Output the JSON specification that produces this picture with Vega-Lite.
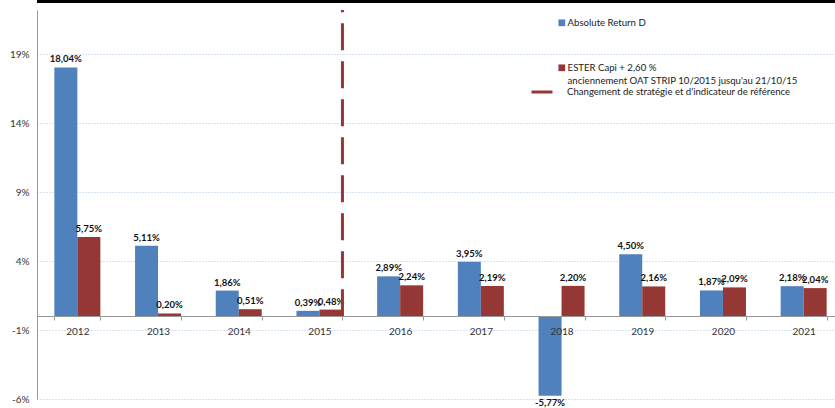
{
  "$schema": "https://vega.github.io/schema/vega-lite/v6.json",
  "width": 798,
  "height": 389,
  "autosize": {"type": "none"},
  "padding": {"left": 37, "top": 10, "right": 0, "bottom": 9},
  "background": "white",
  "config": {
    "view": {"stroke": null},
    "font": "Lato",
    "axis": {"labelFont": "Lato", "labelFontSize": 10, "labelColor": "#333333"},
    "legend": {"labelFont": "Lato", "labelFontSize": 9.6, "labelColor": "#1a1a1a", "padding": 0, "labelLimit": 400},
    "style": {"guide-label": {"lineHeight": 13}}
  },
  "data": {
    "values": [
      {"year": "2012", "series": "Absolute Return D", "value": 18.04, "label": "18,04%"},
      {"year": "2012", "series": "ESTER Capi + 2,60 %", "value": 5.75, "label": "5,75%"},
      {"year": "2013", "series": "Absolute Return D", "value": 5.11, "label": "5,11%"},
      {"year": "2013", "series": "ESTER Capi + 2,60 %", "value": 0.20, "label": "0,20%"},
      {"year": "2014", "series": "Absolute Return D", "value": 1.86, "label": "1,86%"},
      {"year": "2014", "series": "ESTER Capi + 2,60 %", "value": 0.51, "label": "0,51%"},
      {"year": "2015", "series": "Absolute Return D", "value": 0.39, "label": "0,39%"},
      {"year": "2015", "series": "ESTER Capi + 2,60 %", "value": 0.48, "label": "0,48%"},
      {"year": "2016", "series": "Absolute Return D", "value": 2.89, "label": "2,89%"},
      {"year": "2016", "series": "ESTER Capi + 2,60 %", "value": 2.24, "label": "2,24%"},
      {"year": "2017", "series": "Absolute Return D", "value": 3.95, "label": "3,95%"},
      {"year": "2017", "series": "ESTER Capi + 2,60 %", "value": 2.19, "label": "2,19%"},
      {"year": "2018", "series": "Absolute Return D", "value": -5.77, "label": "-5,77%"},
      {"year": "2018", "series": "ESTER Capi + 2,60 %", "value": 2.20, "label": "2,20%"},
      {"year": "2019", "series": "Absolute Return D", "value": 4.50, "label": "4,50%"},
      {"year": "2019", "series": "ESTER Capi + 2,60 %", "value": 2.16, "label": "2,16%"},
      {"year": "2020", "series": "Absolute Return D", "value": 1.87, "label": "1,87%"},
      {"year": "2020", "series": "ESTER Capi + 2,60 %", "value": 2.09, "label": "2,09%"},
      {"year": "2021", "series": "Absolute Return D", "value": 2.18, "label": "2,18%"},
      {"year": "2021", "series": "ESTER Capi + 2,60 %", "value": 2.04, "label": "2,04%"}
    ]
  },
  "layer": [
    {
      "mark": {"type": "bar"},
      "encoding": {
        "x": {
          "field": "year", "type": "nominal",
          "scale": {"range": [0, 807], "paddingInner": 0.43, "paddingOuter": 0.215},
          "axis": {
            "title": null, "labelAngle": 0, "offset": -83, "domainColor": "#999999",
            "tickColor": "#999999", "tickBand": "extent", "tickSize": 4, "labelPadding": 6, "zindex": 1
          }
        },
        "xOffset": {"field": "series", "type": "nominal", "scale": {"paddingInner": 0, "domain": ["Absolute Return D", "ESTER Capi + 2,60 %"]}},
        "y": {
          "field": "value", "type": "quantitative",
          "scale": {"domain": [-6, 22.2], "nice": false, "zero": false},
          "axis": {
            "title": null, "values": [-6, -1, 4, 9, 14, 19],
            "labelExpr": "datum.value + '%'",
            "grid": true, "gridColor": "#aac4e6", "gridDash": [1, 2], "gridWidth": 1,
            "domainColor": "#999999", "ticks": false, "labelPadding": 8
          }
        },
        "color": {
          "field": "series", "type": "nominal",
          "scale": {"domain": ["Absolute Return D", "ESTER Capi + 2,60 %"], "range": ["#4f81bd", "#953735"]},
          "legend": {
            "title": null, "orient": "none", "legendX": 520, "legendY": 8,
            "symbolType": "square", "symbolSize": 45, "symbolStrokeWidth": 0,
            "labelOffset": 1, "rowPadding": 34, "labelBaseline": "middle",
            "labelExpr": "datum.label == 'ESTER Capi + 2,60 %' ? ['ESTER Capi + 2,60 %', \"anciennement OAT STRIP 10/2015 jusqu'au 21/10/15\"] : datum.label"
          }
        }
      }
    },
    {
      "transform": [{"filter": "datum.value >= 0"}],
      "mark": {"type": "text", "baseline": "bottom", "dy": -3, "fontSize": 9.5, "fontWeight": "bold", "color": "#111111"},
      "encoding": {
        "x": {"field": "year", "type": "nominal"},
        "xOffset": {"field": "series", "type": "nominal"},
        "y": {"field": "value", "type": "quantitative"},
        "text": {"field": "label"}
      }
    },
    {
      "transform": [{"filter": "datum.value < 0"}],
      "mark": {"type": "text", "baseline": "top", "dy": 2, "fontSize": 9.5, "fontWeight": "bold", "color": "#111111"},
      "encoding": {
        "x": {"field": "year", "type": "nominal"},
        "xOffset": {"field": "series", "type": "nominal"},
        "y": {"field": "value", "type": "quantitative"},
        "text": {"field": "label"}
      }
    },
    {
      "data": {"values": [{"year": "2015", "event": "Changement de stratégie et d'indicateur de référence", "start": 0, "end": 22.2}]},
      "mark": {"type": "rule", "strokeWidth": 3, "color": "#953735"},
      "encoding": {
        "x": {"field": "year", "type": "nominal", "bandPosition": 1},
        "y": {"field": "start", "type": "quantitative"},
        "y2": {"field": "end"},
        "strokeDash": {
          "field": "event", "type": "nominal",
          "scale": {"range": [[27, 11]]},
          "legend": {
            "title": null, "orient": "none", "legendX": 493, "legendY": 70,
            "symbolType": "stroke", "symbolSize": 440, "symbolStrokeColor": "#953735",
            "symbolStrokeWidth": 3, "symbolDash": [8, 4], "labelOffset": 13
          }
        }
      }
    },
    {
      "data": {"values": [{"top": 22.85}]},
      "mark": {"type": "rule", "strokeWidth": 4, "color": "#000000"},
      "encoding": {"y": {"field": "top", "type": "quantitative"}}
    }
  ]
}
